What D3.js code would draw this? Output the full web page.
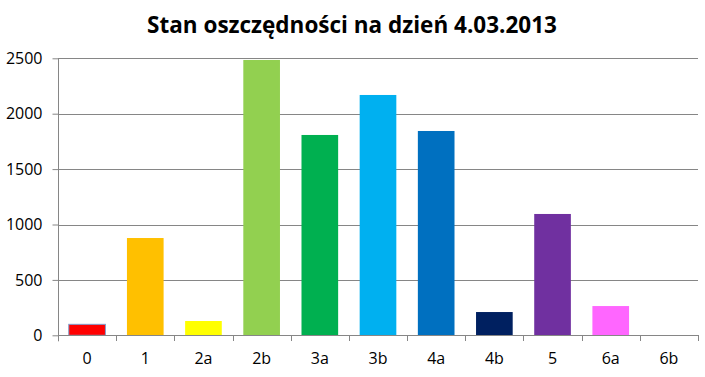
<!DOCTYPE html>
<html>
<head>
<meta charset="utf-8">
<script src="https://cdn.jsdelivr.net/npm/d3@7"></script>
<style>
  body { margin: 0; background: #fff; }
  text { font-family: "Open Sans", "Noto Sans", sans-serif; }
</style>
</head>
<body>
<div id="chart"></div>
<script>
var categories = ["0", "1", "2a", "2b", "3a", "3b", "4a", "4b", "5", "6a", "6b"];
var values = [99, 878, 129, 2485, 1808, 2169, 1844, 210, 1095, 264, 0];
var colors = ["#ff0000", "#ffc000", "#ffff00", "#92d050", "#00b050", "#00b0f0",
              "#0070c0", "#002060", "#7030a0", "#ff66ff", "#ffffff"];
var yTicks = [0, 500, 1000, 1500, 2000, 2500];
var title = "Stan oszczędności na dzień 4.03.2013";

var width = 705, height = 377;
var plotLeft = 58, plotRight = 698, plotTop = 58.3, plotBottom = 335.3;

var svg = d3.select("#chart").append("svg")
    .attr("width", width)
    .attr("height", height);

var x = d3.scaleBand()
    .domain(categories)
    .range([plotLeft, plotRight])
    .paddingInner(0.37)
    .paddingOuter(0.185);

var y = d3.scaleLinear()
    .domain([0, 2500])
    .range([plotBottom, plotTop]);

// gridlines
svg.append("g")
    .selectAll("line")
    .data(yTicks.filter(function(d) { return d > 0; }))
    .enter().append("line")
    .attr("x1", plotLeft)
    .attr("x2", plotRight)
    .attr("y1", function(d) { return Math.round(y(d)) + 0.5; })
    .attr("y2", function(d) { return Math.round(y(d)) + 0.5; })
    .attr("stroke", "#868686")
    .attr("stroke-width", 1);

// bars
svg.append("g")
    .selectAll("rect")
    .data(values)
    .enter().append("rect")
    .attr("x", function(d, i) { return x(categories[i]); })
    .attr("width", x.bandwidth())
    .attr("y", function(d) { return y(d); })
    .attr("height", function(d) { return plotBottom - y(d); })
    .attr("fill", function(d, i) { return colors[i]; })
    .attr("stroke", function(d, i) { return i == 0 ? "#7f9fcf" : "none"; })
    .attr("stroke-width", 1);

// y axis
var yAxis = svg.append("g")
    .attr("transform", "translate(" + (plotLeft + 0.5) + ",0)")
    .call(d3.axisLeft(y).tickValues(yTicks).tickFormat(d3.format("d")).tickSize(6).tickPadding(10));
yAxis.selectAll("path, line").attr("stroke", "#868686");
yAxis.select(".domain").attr("d", "M0," + plotTop + "V" + (plotBottom + 6));
yAxis.selectAll("text")
    .attr("font-size", "16px")
    .attr("fill", "#000")
    .style("font-family", "'Open Sans', sans-serif");

// x axis
var xAxis = svg.append("g")
    .attr("transform", "translate(0," + (Math.round(plotBottom) + 0.5) + ")")
    .call(d3.axisBottom(x).tickSize(0).tickPadding(17));
xAxis.select(".domain").attr("stroke", "#868686").attr("d", "M" + plotLeft + ",0H" + plotRight);
xAxis.selectAll("text")
    .attr("font-size", "16px")
    .attr("fill", "#000")
    .style("font-family", "'Open Sans', sans-serif");

// x tick marks between categories
svg.append("g")
    .selectAll("line")
    .data(d3.range(categories.length + 1))
    .enter().append("line")
    .attr("x1", function(i) { return Math.round(plotLeft + (plotRight - plotLeft) * i / categories.length) + 0.5; })
    .attr("x2", function(i) { return Math.round(plotLeft + (plotRight - plotLeft) * i / categories.length) + 0.5; })
    .attr("y1", Math.round(plotBottom))
    .attr("y2", Math.round(plotBottom) + 6)
    .attr("stroke", "#868686");

// title
svg.append("text")
    .attr("x", 352)
    .attr("y", 33)
    .attr("text-anchor", "middle")
    .attr("font-size", "22.5px")
    .attr("font-weight", "bold")
    .attr("fill", "#000")
    .text(title);
</script>
</body>
</html>
